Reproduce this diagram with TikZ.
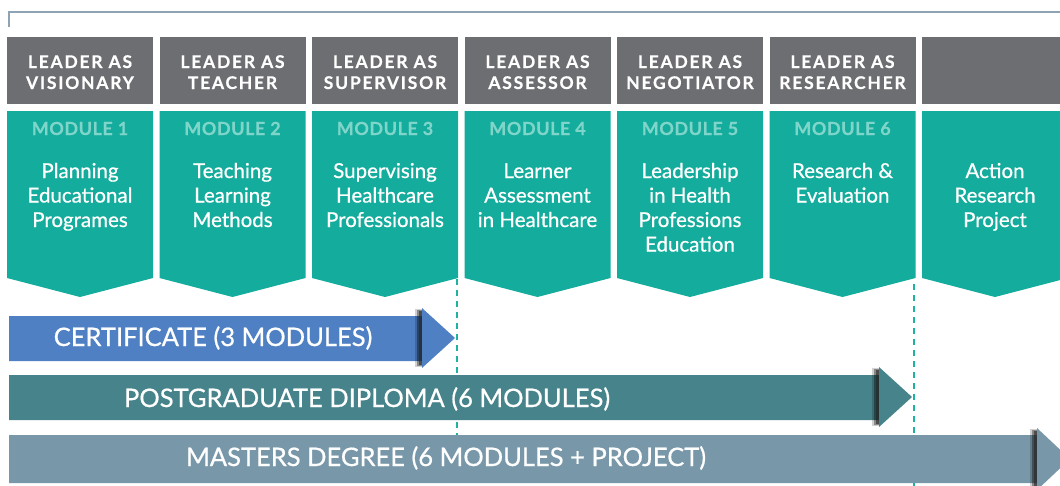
\documentclass[tikz,border=0pt]{standalone}
\usepackage{fontspec}
\setmainfont{Lato}
\newfontfamily\hdrfont[LetterSpace=10,FakeBold=0.5]{Lato}
\newfontfamily\modfont[LetterSpace=3,FakeBold=0.4]{Lato}
\newfontfamily\medfont[FakeBold=0.7]{Lato}
\definecolor{hdrgray}{HTML}{6D6E72}
\definecolor{modteal}{HTML}{14AC9C}
\definecolor{modlight}{HTML}{80D5CA}
\definecolor{certblue}{HTML}{4F80C4}
\definecolor{diplteal}{HTML}{47838B}
\definecolor{mastgray}{HTML}{7898A9}
\definecolor{bracketc}{HTML}{8EA3B3}
\definecolor{dashc}{HTML}{1FB2A0}
\tikzset{
  hdrbox/.style={fill=hdrgray, draw=none, minimum width=146pt, minimum height=67pt, inner sep=0pt, anchor=north west},
  hdrtext/.style={text=white, font=\hdrfont\bfseries\fontsize{17.5}{21}\selectfont, align=center, anchor=base, inner sep=0pt},
  modlabel/.style={text=modlight, font=\modfont\bfseries\fontsize{18}{22}\selectfont, anchor=base, inner sep=0pt},
  modtitle/.style={text=white, font=\medfont\fontsize{20.5}{24.5}\selectfont, align=center, anchor=base, inner sep=0pt},
  bartext/.style={text=white, font=\medfont\fontsize{25.5}{30}\selectfont, anchor=base, inner sep=0pt},
  dashline/.style={draw=dashc, line width=2pt, dash pattern=on 6pt off 5pt},
  bracketline/.style={draw=bracketc, line width=2pt},
}
\begin{document}
\begin{tikzpicture}[x=1pt,y=-1pt]
\useasboundingbox (0,0) rectangle (1060,485);
\clip (0,0) rectangle (1060,485);

% top bracket
\coordinate (bl) at (9,27);
\coordinate (bt) at (9,12);
\coordinate (br) at (1062,12);
\draw[bracketline] (bl) -- (bt) -- (br);

% columns (base anchor of a multi-line node = baseline of its last line)
\foreach \i/\ha/\hb/\mod/\n/\title in {
  0/LEADER AS/VISIONARY/MODULE 1/3/{Planning\\Educational\\Programes},
  1/LEADER AS/TEACHER/MODULE 2/3/{Teaching\\Learning\\Methods},
  2/LEADER AS/SUPERVISOR/MODULE 3/3/{Supervising\\Healthcare\\Professionals},
  3/LEADER AS/ASSESSOR/MODULE 4/3/{Learner\\Assessment\\in Healthcare},
  4/LEADER AS/NEGOTIATOR/MODULE 5/4/{Leadership\\in Health\\Professions\\Education},
  5/LEADER AS/RESEARCHER/MODULE 6/2/{Research \&\\Evaluation}}{
  \pgfmathsetmacro{\xl}{7+152.5*\i}
  \pgfmathsetmacro{\xc}{\xl+73}
  \pgfmathsetmacro{\xr}{\xl+146}
  \pgfmathsetmacro{\yb}{178+24.5*(\n-1)}
  \node[hdrbox] (h\i) at (\xl,37) {};
  \node[hdrtext] (ht\i) at (\xc,89) {\ha\\\hb};
  \fill[modteal] (\xl,111) -- (\xr,111) -- (\xr,278) -- (\xc,297) -- (\xl,278) -- cycle;
  \node[modlabel] (m\i) at (\xc,135) {\mod};
  \node[modtitle] (t\i) at (\xc,\yb) {\title};
}
% seventh column
\node[hdrbox] (h6) at (922,37) {};
\fill[modteal] (922,111) -- (1068,111) -- (1068,278) -- (995,297) -- (922,278) -- cycle;
\node[modtitle] (t6) at (995,227) {Action\\Research\\Project};

% dashed lines
\coordinate (d1a) at (457,279);
\coordinate (d1b) at (457,487);
\coordinate (d2a) at (914,284);
\coordinate (d2b) at (914,487);
\draw[dashline] (d1a) -- (d1b);
\draw[dashline] (d2a) -- (d2b);

% bars
\fill[certblue] (9,316) -- (422,316) -- (422,308) -- (455,338) -- (422,368) -- (422,361) -- (9,361) -- cycle;
\fill[diplteal] (9,375) -- (879,375) -- (879,367) -- (912,397) -- (879,427) -- (879,420) -- (9,420) -- cycle;
\fill[mastgray] (9,435) -- (1037,435) -- (1037,428) -- (1070,459) -- (1037,490) -- (1037,483) -- (9,483) -- cycle;

% shadows at arrowhead bases
\foreach \bx/\ty/\by in {422/308/368, 879/367/427, 1037/428/490}{
  \fill[black, opacity=0.18] (\bx-7,\ty+1) rectangle (\bx,\by-1);
  \fill[black, opacity=0.35] (\bx-5,\ty+2) rectangle (\bx,\by-2);
  \fill[black!85, opacity=0.6] (\bx-3.5,\ty+3) rectangle (\bx,\by-3);
}

\node[bartext] (cert) at (213,346) {CERTIFICATE (3 MODULES)};
\node[bartext] (dipl) at (367,407) {POSTGRADUATE DIPLOMA (6 MODULES)};
\node[bartext] (mast) at (446,466) {MASTERS DEGREE (6 MODULES + PROJECT)};
\end{tikzpicture}
\end{document}
